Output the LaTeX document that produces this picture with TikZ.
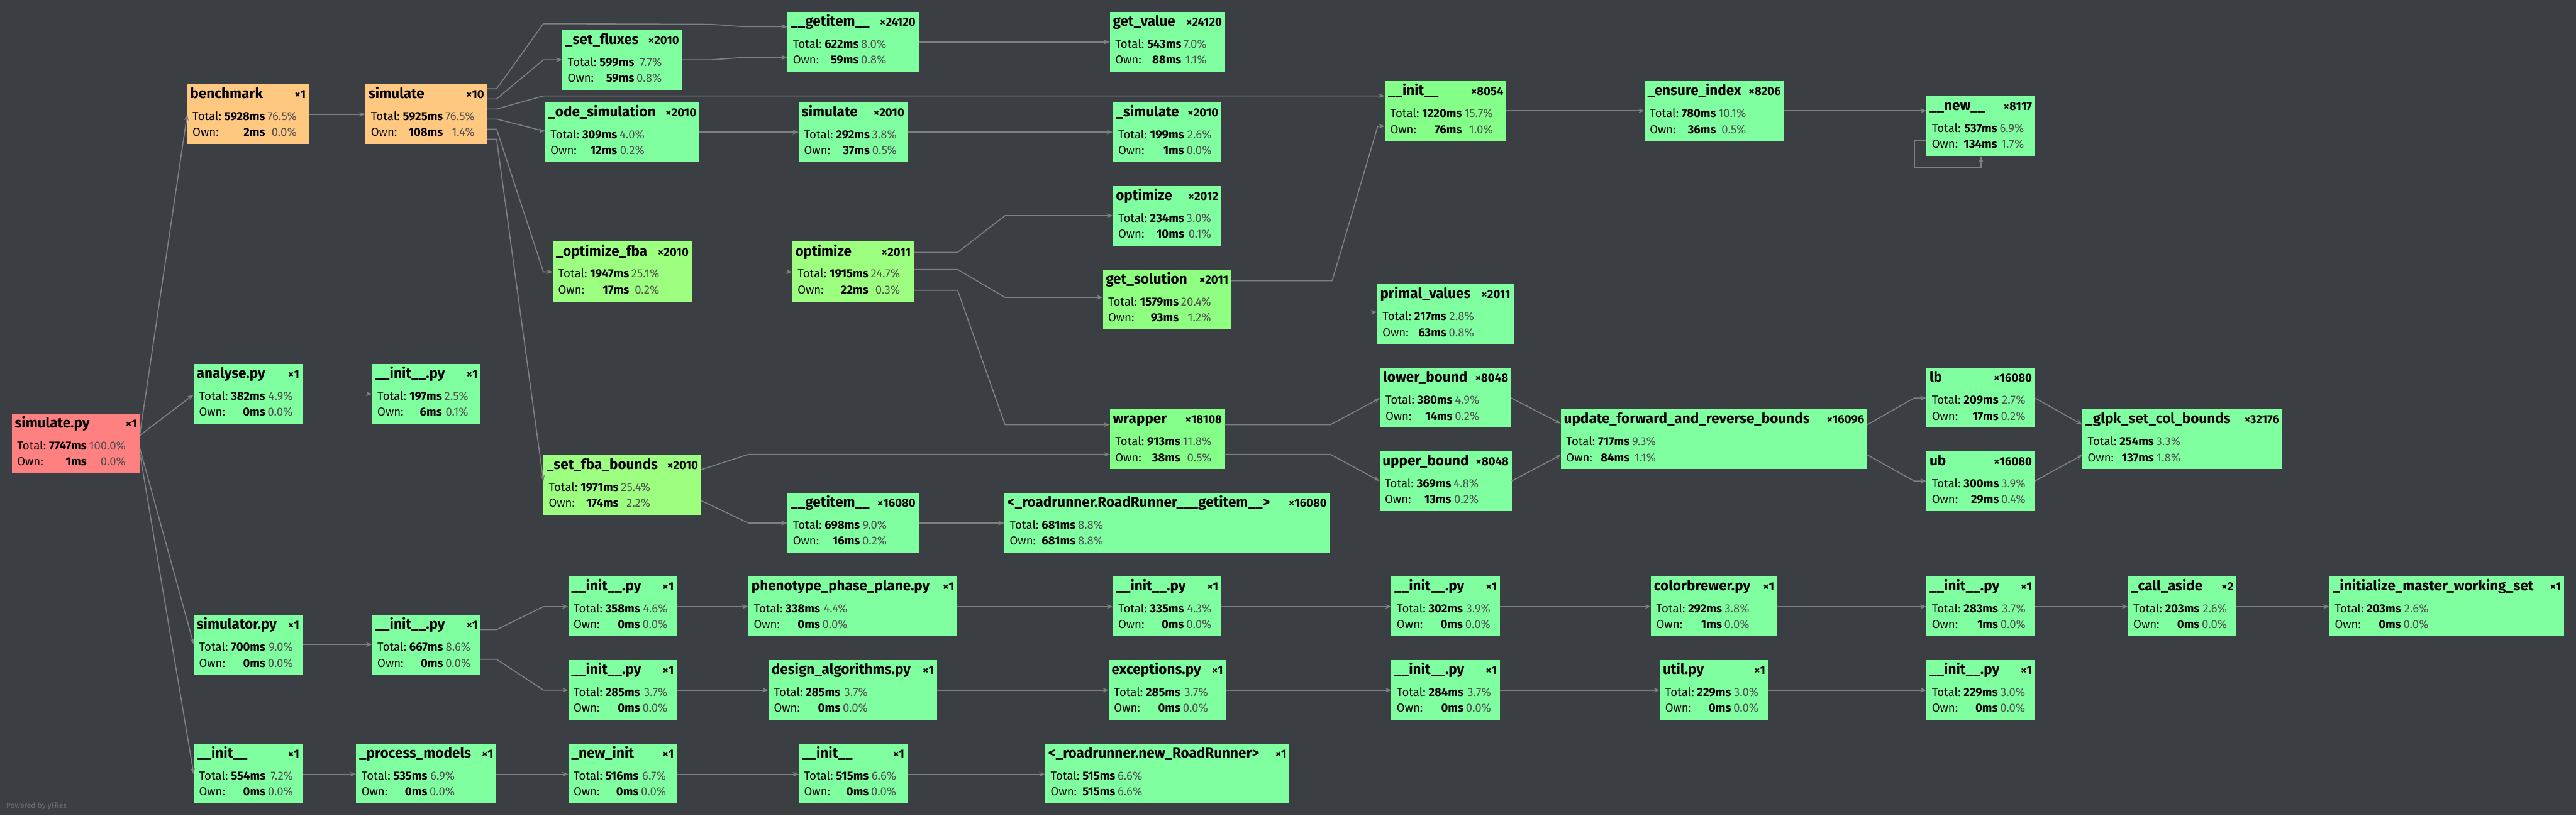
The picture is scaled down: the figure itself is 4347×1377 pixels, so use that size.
\documentclass[tikz,border=0pt]{standalone}
\usepackage{fontspec}
\setmainfont{Fira Sans}
\usepackage{tikz}
\usetikzlibrary{arrows.meta}

\definecolor{bgdark}{HTML}{3B3F43}
\definecolor{edgegray}{HTML}{7F7F7F}
\definecolor{pctgray}{HTML}{505050}
\definecolor{creditgray}{HTML}{6E7275}
\definecolor{fnred}{HTML}{FF8080}
\definecolor{fnorange}{HTML}{FFC880}
\definecolor{fnmint}{HTML}{80FFA0}
\definecolor{fngreen}{HTML}{84FF88}
\definecolor{fnlime}{HTML}{8EFF80}
\definecolor{fnyg}{HTML}{9DFF80}

\newdimen\pxu \pxu=0.01cm
\newcommand\fntitle{\fontsize{6.8pt}{7pt}\selectfont\bfseries}
\newcommand\fncount{\fontsize{5.6pt}{6pt}\selectfont\bfseries}
\newcommand\rowstrut[1]{\vrule height #1\pxu depth 6\pxu width 0pt}
\newcommand\fnstats[4]{%
  \hbox{\hspace*{4\pxu}\renewcommand\arraystretch{0}%
  \begin{tabular}[t]{@{}l@{\hspace{5\pxu}}r@{\hspace{4\pxu}}r@{}}
  \rowstrut{31}Total: & \textbf{#1} & \textcolor{pctgray}{#2\%}\\
  \rowstrut{21}Own: & \textbf{#3} & \textcolor{pctgray}{#4\%}
  \end{tabular}}}
\newcommand\fnbox[7]{%
  \node[fn, fill=#4, minimum width=#3*0.01cm] (#1) at #2 {%
    \parbox[c][101\pxu][t]{\dimexpr#3\pxu-10\pxu\relax}{%
      \hbox to\linewidth{\rowstrut{24}\fntitle #5\hfill\fncount ×#6}%
      \nointerlineskip
      \fnstats#7}};}

\tikzset{
fn/.style={shape=rectangle,anchor=north west,inner sep=0pt,outer sep=0pt,
  minimum height=1.01cm,font=\fontsize{5.6pt}{6pt}\selectfont},
call/.style={draw=edgegray,line width=0.5pt,->},
credit/.style={anchor=west,inner sep=0pt,text=creditgray,font=\fontsize{3.6pt}{4pt}\selectfont}
}

\begin{document}
\begin{tikzpicture}
[x=0.01cm,y=-0.01cm,>={Stealth[length=3pt,width=2.2pt,inset=1pt]}]
\useasboundingbox (0,0) rectangle (4347,1377);
\fill[bgdark] (0,0) rectangle (4347,1377);

% left part
\fnbox{simpy}{(20,698)}{216}{fnred}{simulate.py}{1}{{7747ms}{100.0}{1ms}{0.0}}
\fnbox{bench}{(316,142)}{205}{fnorange}{benchmark}{1}{{5928ms}{76.5}{2ms}{0.0}}
\fnbox{simten}{(617,142)}{205}{fnorange}{simulate}{10}{{5925ms}{76.5}{108ms}{1.4}}
\fnbox{analyse}{(327,614)}{183}{fnmint}{analyse.py}{1}{{382ms}{4.9}{0ms}{0.0}}
\fnbox{initpyA}{(628,614)}{183}{fnmint}{\_\_init\_\_.py}{1}{{197ms}{2.5}{6ms}{0.1}}
\fnbox{simulator}{(327,1038)}{183}{fnmint}{simulator.py}{1}{{700ms}{9.0}{0ms}{0.0}}
\fnbox{initpyB}{(628,1038)}{183}{fnmint}{\_\_init\_\_.py}{1}{{667ms}{8.6}{0ms}{0.0}}
\fnbox{initB}{(327,1255)}{183}{fnmint}{\_\_init\_\_}{1}{{554ms}{7.2}{0ms}{0.0}}
\fnbox{procmod}{(601,1255)}{236}{fnmint}{\_process\_models}{1}{{535ms}{6.9}{0ms}{0.0}}

% simulate calls
\fnbox{setflux}{(949,51)}{202}{fnmint}{\_set\_fluxes}{2010}{{599ms}{7.7}{59ms}{0.8}}
\fnbox{odesim}{(920,173)}{260}{fnmint}{\_ode\_simulation}{2010}{{309ms}{4.0}{12ms}{0.2}}
\fnbox{optfba}{(933,408)}{234}{fnyg}{\_optimize\_fba}{2010}{{1947ms}{25.1}{17ms}{0.2}}
\fnbox{setfba}{(917,768)}{266}{fnyg}{\_set\_fba\_bounds}{2010}{{1971ms}{25.4}{174ms}{2.2}}
\fnbox{getitemA}{(1329,20)}{221}{fnmint}{\_\_getitem\_\_}{24120}{{622ms}{8.0}{59ms}{0.8}}
\fnbox{getval}{(1873,20)}{194}{fnmint}{get\_value}{24120}{{543ms}{7.0}{88ms}{1.1}}
\fnbox{simtwo}{(1348,173)}{183}{fnmint}{simulate}{2010}{{292ms}{3.8}{37ms}{0.5}}
\fnbox{simpriv}{(1878,173)}{183}{fnmint}{\_simulate}{2010}{{199ms}{2.6}{1ms}{0.0}}
\fnbox{optB}{(1878,314)}{183}{fnmint}{optimize}{2012}{{234ms}{3.0}{10ms}{0.1}}
\fnbox{optA}{(1337,408)}{205}{fnyg}{optimize}{2011}{{1915ms}{24.7}{22ms}{0.3}}
\fnbox{getsol}{(1861,455)}{217}{fnlime}{get\_solution}{2011}{{1579ms}{20.4}{93ms}{1.2}}
\fnbox{primal}{(2324,480)}{230}{fnmint}{primal\_values}{2011}{{217ms}{2.8}{63ms}{0.8}}
\fnbox{initA}{(2337,137)}{205}{fngreen}{\_\_init\_\_}{8054}{{1220ms}{15.7}{76ms}{1.0}}
\fnbox{ensure}{(2775,137)}{235}{fnmint}{\_ensure\_index}{8206}{{780ms}{10.1}{36ms}{0.5}}
\fnbox{new}{(3251,162)}{183}{fnmint}{\_\_new\_\_}{8117}{{537ms}{6.9}{134ms}{1.7}}
\fnbox{wrapper}{(1873,691)}{194}{fngreen}{wrapper}{18108}{{913ms}{11.8}{38ms}{0.5}}
\fnbox{getitemB}{(1329,832)}{221}{fnmint}{\_\_getitem\_\_}{16080}{{698ms}{9.0}{16ms}{0.2}}
\fnbox{rrget}{(1695,832)}{549}{fnmint}{<\_roadrunner.RoadRunner\_\_\_getitem\_\_>}{16080}{{681ms}{8.8}{681ms}{8.8}}
\fnbox{lower}{(2329,621)}{221}{fnmint}{lower\_bound}{8048}{{380ms}{4.9}{14ms}{0.2}}
\fnbox{upper}{(2328,762)}{223}{fnmint}{upper\_bound}{8048}{{369ms}{4.8}{13ms}{0.2}}
\fnbox{update}{(2634,691)}{517}{fnmint}{update\_forward\_and\_reverse\_bounds}{16096}{{717ms}{9.3}{84ms}{1.1}}
\fnbox{lb}{(3251,621)}{183}{fnmint}{lb}{16080}{{209ms}{2.7}{17ms}{0.2}}
\fnbox{ub}{(3251,762)}{183}{fnmint}{ub}{16080}{{300ms}{3.9}{29ms}{0.4}}
\fnbox{glpk}{(3514,691)}{337}{fnmint}{\_glpk\_set\_col\_bounds}{32176}{{254ms}{3.3}{137ms}{1.8}}

% import rows
\fnbox{initpyC}{(959,973)}{183}{fnmint}{\_\_init\_\_.py}{1}{{358ms}{4.6}{0ms}{0.0}}
\fnbox{pheno}{(1263,973)}{352}{fnmint}{phenotype\_phase\_plane.py}{1}{{338ms}{4.4}{0ms}{0.0}}
\fnbox{initpyE}{(1878,973)}{183}{fnmint}{\_\_init\_\_.py}{1}{{335ms}{4.3}{0ms}{0.0}}
\fnbox{initpyF}{(2348,973)}{183}{fnmint}{\_\_init\_\_.py}{1}{{302ms}{3.9}{0ms}{0.0}}
\fnbox{colorb}{(2786,973)}{213}{fnmint}{colorbrewer.py}{1}{{292ms}{3.8}{1ms}{0.0}}
\fnbox{initpyG}{(3251,973)}{183}{fnmint}{\_\_init\_\_.py}{1}{{283ms}{3.7}{1ms}{0.0}}
\fnbox{callaside}{(3591,973)}{183}{fnmint}{\_call\_aside}{2}{{203ms}{2.6}{0ms}{0.0}}
\fnbox{initmaster}{(3931,973)}{396}{fnmint}{\_initialize\_master\_working\_set}{1}{{203ms}{2.6}{0ms}{0.0}}
\fnbox{initpyD}{(959,1114)}{183}{fnmint}{\_\_init\_\_.py}{1}{{285ms}{3.7}{0ms}{0.0}}
\fnbox{design}{(1297,1114)}{284}{fnmint}{design\_algorithms.py}{1}{{285ms}{3.7}{0ms}{0.0}}
\fnbox{exc}{(1871,1114)}{198}{fnmint}{exceptions.py}{1}{{285ms}{3.7}{0ms}{0.0}}
\fnbox{initpyH}{(2348,1114)}{183}{fnmint}{\_\_init\_\_.py}{1}{{284ms}{3.7}{0ms}{0.0}}
\fnbox{util}{(2801,1114)}{183}{fnmint}{util.py}{1}{{229ms}{3.0}{0ms}{0.0}}
\fnbox{initpyI}{(3251,1114)}{183}{fnmint}{\_\_init\_\_.py}{1}{{229ms}{3.0}{0ms}{0.0}}
\fnbox{newinit}{(959,1255)}{183}{fnmint}{\_new\_init}{1}{{516ms}{6.7}{0ms}{0.0}}
\fnbox{initC}{(1348,1255)}{183}{fnmint}{\_\_init\_\_}{1}{{515ms}{6.6}{0ms}{0.0}}
\fnbox{newrr}{(1764,1255)}{412}{fnmint}{<\_roadrunner.new\_RoadRunner>}{1}{{515ms}{6.6}{515ms}{6.6}}

\node[credit] (credit) at (10,1361) {Powered by yFiles};

% calls from simulate.py
\draw[call] (simpy.east |- 0,733) -- (bench.west |- 0,193);
\draw[call] (simpy.east |- 0,735) -- (analyse.west |- 0,666);
\draw[call] (simpy.east |- 0,757) -- (simulator.west |- 0,1088);
\draw[call] (simpy.east |- 0,765) -- (initB.west |- 0,1307);
\draw[call] (bench.east |- 0,193) -- (simten.west |- 0,193);
\draw[call] (analyse.east |- 0,665) -- (initpyA.west |- 0,665);

% calls from simulate x10
\draw[call] (simten.east |- 0,150) -- (838,150) -- (917,40) -- (1200,41) -- (1254,45) -- (getitemA.west |- 0,45);
\draw[call] (simten.east |- 0,167) -- (838,167) -- (917,101) -- (setflux.west |- 0,101);
\draw[call] (simten.east |- 0,184) -- (838,184) -- (917,162) -- (initA.west |- 0,162);
\draw[call] (simten.east |- 0,201) -- (838,201) -- (917,221) -- (odesim.west |- 0,221);
\draw[call] (simten.east |- 0,218) -- (838,218) -- (917,459) -- (optfba.west |- 0,459);
\draw[call] (simten.east |- 0,235) -- (838,235) -- (setfba.west |- 0,812);

\draw[call] (setflux.east |- 0,101) -- (1200,101) -- (1254,97) -- (getitemA.west |- 0,97);
\draw[call] (getitemA.east |- 0,71) -- (getval.west |- 0,71);
\draw[call] (odesim.east |- 0,223) -- (simtwo.west |- 0,223);
\draw[call] (simtwo.east |- 0,223) -- (simpriv.west |- 0,223);
\draw[call] (optfba.east |- 0,459) -- (optA.west |- 0,459);
\draw[call] (optA.east |- 0,426) -- (1616,426) -- (1696,364) -- (optB.west |- 0,364);
\draw[call] (optA.east |- 0,455) -- (1616,455) -- (1696,502) -- (getsol.west |- 0,502);
\draw[call] (optA.east |- 0,490) -- (1616,490) -- (1696,717) -- (wrapper.west |- 0,717);
\draw[call] (getsol.east |- 0,474) -- (2248,474) -- (2325,213) -- (initA.west |- 0,213);
\draw[call] (getsol.east |- 0,527) -- (primal.west |- 0,527);
\draw[call] (initA.east |- 0,187) -- (ensure.west |- 0,187);
\draw[call] (ensure.east |- 0,187) -- (new.west |- 0,187);
\draw[call] (new.west |- 0,238) -- (3231,238) -- (3231,283) -- (3343,283) -- (new.south -| 3343,0);

% bounds
\draw[call] (setfba.east |- 0,793) -- (1263,767) -- (wrapper.west |- 0,767);
\draw[call] (setfba.east |- 0,845) -- (1263,883) -- (getitemB.west |- 0,883);
\draw[call] (getitemB.east |- 0,883) -- (rrget.west |- 0,883);
\draw[call] (wrapper.east |- 0,717) -- (2245,717) -- (lower.west |- 0,672);
\draw[call] (wrapper.east |- 0,767) -- (2245,767) -- (upper.west |- 0,812);
\draw[call] (lower.east |- 0,672) -- (update.west |- 0,715);
\draw[call] (upper.east |- 0,812) -- (update.west |- 0,768);
\draw[call] (update.east |- 0,717) -- (3230,672) -- (lb.west |- 0,672);
\draw[call] (update.east |- 0,768) -- (3230,812) -- (ub.west |- 0,812);
\draw[call] (lb.east |- 0,672) -- (glpk.west |- 0,717);
\draw[call] (ub.east |- 0,812) -- (glpk.west |- 0,768);

% imports
\draw[call] (simulator.east |- 0,1088) -- (initpyB.west |- 0,1088);
\draw[call] (initpyB.east |- 0,1063) -- (838,1063) -- (917,1024) -- (initpyC.west |- 0,1024);
\draw[call] (initpyB.east |- 0,1113) -- (838,1113) -- (917,1165) -- (initpyD.west |- 0,1165);
\draw[call] (initpyC.east |- 0,1024) -- (pheno.west |- 0,1024);
\draw[call] (pheno.east |- 0,1024) -- (initpyE.west |- 0,1024);
\draw[call] (initpyE.east |- 0,1024) -- (initpyF.west |- 0,1024);
\draw[call] (initpyF.east |- 0,1024) -- (colorb.west |- 0,1024);
\draw[call] (colorb.east |- 0,1024) -- (initpyG.west |- 0,1024);
\draw[call] (initpyG.east |- 0,1024) -- (callaside.west |- 0,1024);
\draw[call] (callaside.east |- 0,1024) -- (initmaster.west |- 0,1024);
\draw[call] (initpyD.east |- 0,1165) -- (design.west |- 0,1165);
\draw[call] (design.east |- 0,1165) -- (exc.west |- 0,1165);
\draw[call] (exc.east |- 0,1165) -- (initpyH.west |- 0,1165);
\draw[call] (initpyH.east |- 0,1165) -- (util.west |- 0,1165);
\draw[call] (util.east |- 0,1165) -- (initpyI.west |- 0,1165);
\draw[call] (initB.east |- 0,1307) -- (procmod.west |- 0,1307);
\draw[call] (procmod.east |- 0,1307) -- (newinit.west |- 0,1307);
\draw[call] (newinit.east |- 0,1307) -- (initC.west |- 0,1307);
\draw[call] (initC.east |- 0,1307) -- (newrr.west |- 0,1307);
\end{tikzpicture}
\end{document}
